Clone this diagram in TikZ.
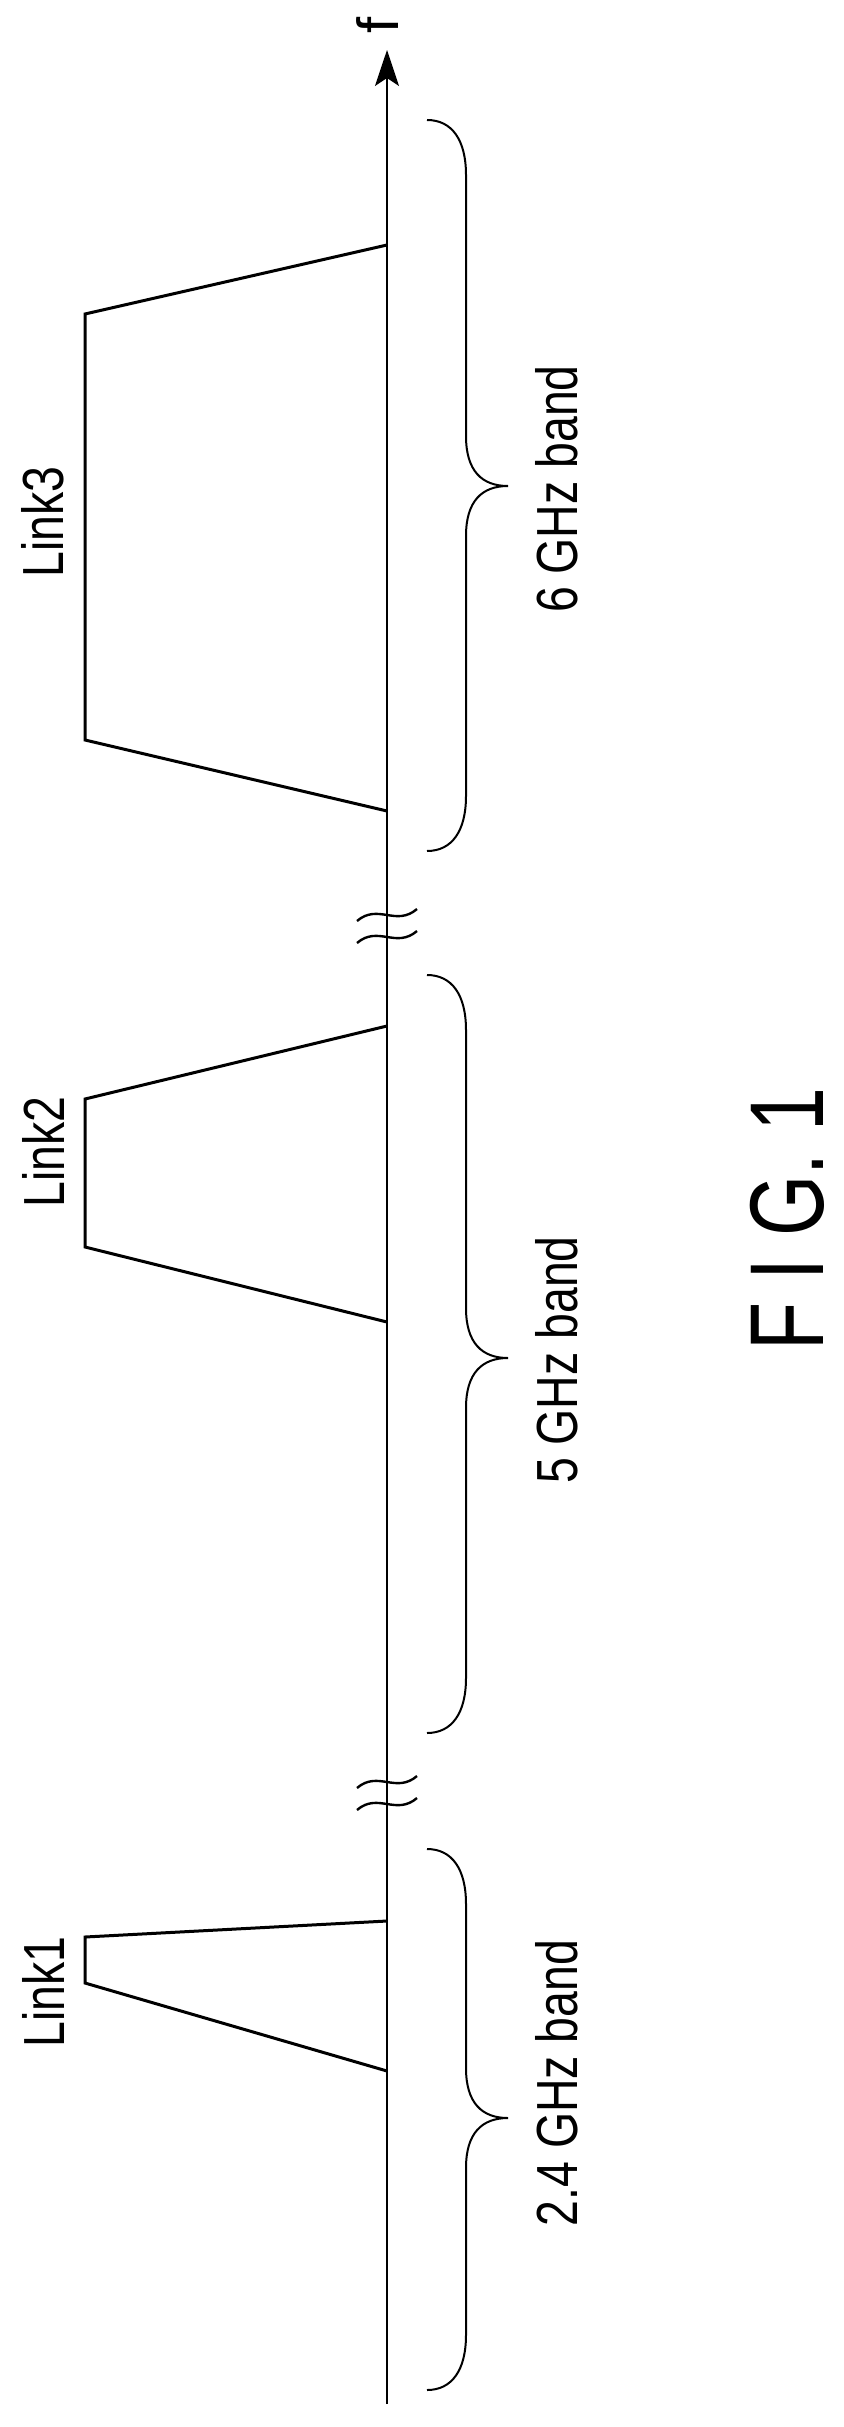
\documentclass[tikz,border=0pt]{standalone}
\usepackage{fontspec}
\setmainfont{Liberation Sans}
\usetikzlibrary{arrows.meta}

\tikzset{
  lbl/.style={inner sep=0pt, rotate=90, font=\fontsize{58}{58}\selectfont},
  sig/.style={line width=3pt},
  brc/.style={line width=2pt},
  brk/.style={line width=2.4pt}
}

% narrowed text
\newcommand{\nar}[1]{\scalebox{0.8}[1]{#1}}

% right-pointing brace from y=#1 to y=#2, tip at y=#3
\newcommand{\bandbrace}[3]{%
  \draw[brc] (427,#1) .. controls (452,#1) and (466,#1+20) .. (466,#1+55)
    -- (466,#3-50) .. controls (466,#3-15) and (482,#3) .. (508,#3)
    .. controls (482,#3) and (466,#3+15) .. (466,#3+50)
    -- (466,#2-55) .. controls (466,#2-20) and (452,#2) .. (427,#2);}

\newcommand{\axbreak}[1]{%
  \draw[brk] (357,#1+6) .. controls (378,#1-12) and (396,#1+12) .. (417,#1-6);
  \draw[brk] (357,#1+28) .. controls (378,#1+10) and (396,#1+34) .. (417,#1+16);}

\begin{document}
\begin{tikzpicture}[x=1pt,y=1pt,yscale=-1]
\useasboundingbox (0,0) rectangle (843,2427);

% axis
\coordinate (ax0) at (387,2404);
\coordinate (ax1) at (387,50);
\draw[line width=1.6pt,-{Stealth[length=36pt,width=24pt,inset=8pt]}] (ax0) -- (ax1);
\node[lbl] (f) at (378,25) {f};

% breaks
\axbreak{1782}
\axbreak{915}

% Link1
\draw[sig] (387,1921) -- (85,1937) -- (85,1983) -- (387,2071);
\node[lbl] (link1) at (43,1992) {\nar{Link1}};
% Link2
\draw[sig] (387,1026) -- (85,1099) -- (85,1247) -- (387,1322);
\node[lbl] (link2) at (43,1152) {\nar{Link2}};
% Link3
\draw[sig] (387,245) -- (85,314) -- (85,740) -- (387,811);
\node[lbl] (link3) at (43,522) {\nar{Link3}};

% bands
\bandbrace{120}{851}{486}
\bandbrace{975}{1733}{1358}
\bandbrace{1849}{2390}{2118}
\node[lbl] (b6) at (557,489) {\nar{6 GHz band}};
\node[lbl] (b5) at (557,1360) {\nar{5 GHz band}};
\node[lbl] (b24) at (557,2083) {\nar{2.4 GHz band}};

\node[inner sep=0pt, rotate=90, font=\fontsize{105}{105}\selectfont] (fig) at (787,1219) {\scalebox{0.75}[1]{F I G. 1}};
\end{tikzpicture}
\end{document}
